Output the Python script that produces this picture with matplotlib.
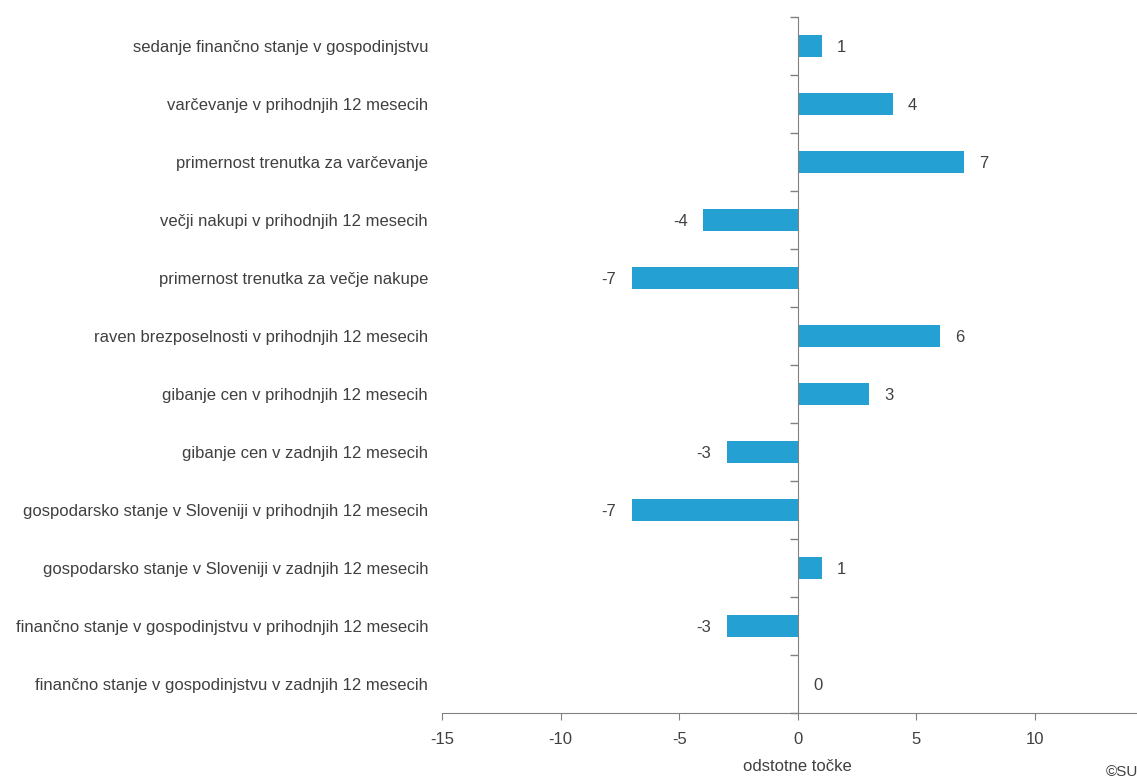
import matplotlib
matplotlib.use("Agg")
import matplotlib.pyplot as plt
import numpy as np
from matplotlib.ticker import FixedLocator

plt.rcParams['font.family'] = ['Liberation Sans', 'DejaVu Sans']

categories = [
    "sedanje finančno stanje v gospodinjstvu",
    "varčevanje v prihodnjih 12 mesecih",
    "primernost trenutka za varčevanje",
    "večji nakupi v prihodnjih 12 mesecih",
    "primernost trenutka za večje nakupe",
    "raven brezposelnosti v prihodnjih 12 mesecih",
    "gibanje cen v prihodnjih 12 mesecih",
    "gibanje cen v zadnjih 12 mesecih",
    "gospodarsko stanje v Sloveniji v prihodnjih 12 mesecih",
    "gospodarsko stanje v Sloveniji v zadnjih 12 mesecih",
    "finančno stanje v gospodinjstvu v prihodnjih 12 mesecih",
    "finančno stanje v gospodinjstvu v zadnjih 12 mesecih",
]
values = [1, 4, 7, -4, -7, 6, 3, -3, -7, 1, -3, 0]
xticks = [-15, -10, -5, 0, 5, 10]

text_color = '#404040'
bar_color = '#24A1D2'
fs = 12

fig = plt.figure(figsize=(11.37, 7.78), dpi=100)
ax = fig.add_axes([442/1137, 1-713/778, 1-442/1137, (713-17)/778])

n = len(categories)
y = np.arange(n)
ax.barh(y, values, height=0.38, color=bar_color, zorder=2)
ax.set_ylim(n-0.5, -0.5)
ax.set_xlim(-15, 14.3)

ax.yaxis.set_minor_locator(FixedLocator(np.arange(n+1)-0.5))
ax.tick_params(axis='y', which='major', left=True, right=False, length=0, pad=10,
               labelcolor=text_color, labelsize=fs)
ax.tick_params(axis='y', which='minor', left=False, right=True, direction='in', length=6, color='#808080', width=1)
ax.set_yticks(y)
ax.set_yticklabels(categories)

ax.spines['left'].set_visible(False)
ax.spines['top'].set_visible(False)
ax.spines['right'].set_position(('data', 0))
ax.spines['right'].set_color('#808080')
ax.spines['bottom'].set_color('#808080')
ax.spines['bottom'].set_bounds(-15, 14.3)

ax.tick_params(axis='x', length=5, color='#808080', pad=9, labelcolor=text_color, labelsize=fs)
ax.set_xticks(xticks)
ax.set_xticklabels([str(t) for t in xticks])

ax.set_xlabel("odstotne točke", fontsize=fs, color=text_color, labelpad=8)
ax.xaxis.label.set_x((0 - (-15)) / (14.3 + 15))

for yi, v in zip(y, values):
    if v >= 0:
        ax.annotate(str(v), (v, yi), xytext=(11, 0), textcoords='offset points',
                    ha='left', va='center_baseline', fontsize=fs, color=text_color)
    else:
        ax.annotate(str(v), (v, yi), xytext=(-11, 0), textcoords='offset points',
                    ha='right', va='center_baseline', fontsize=fs, color=text_color)

fig.text(1106/1137, 1-772/778, "©SURS", fontsize=11, color=text_color, ha='left', va='center')

fig.savefig("out.png", dpi=100)
